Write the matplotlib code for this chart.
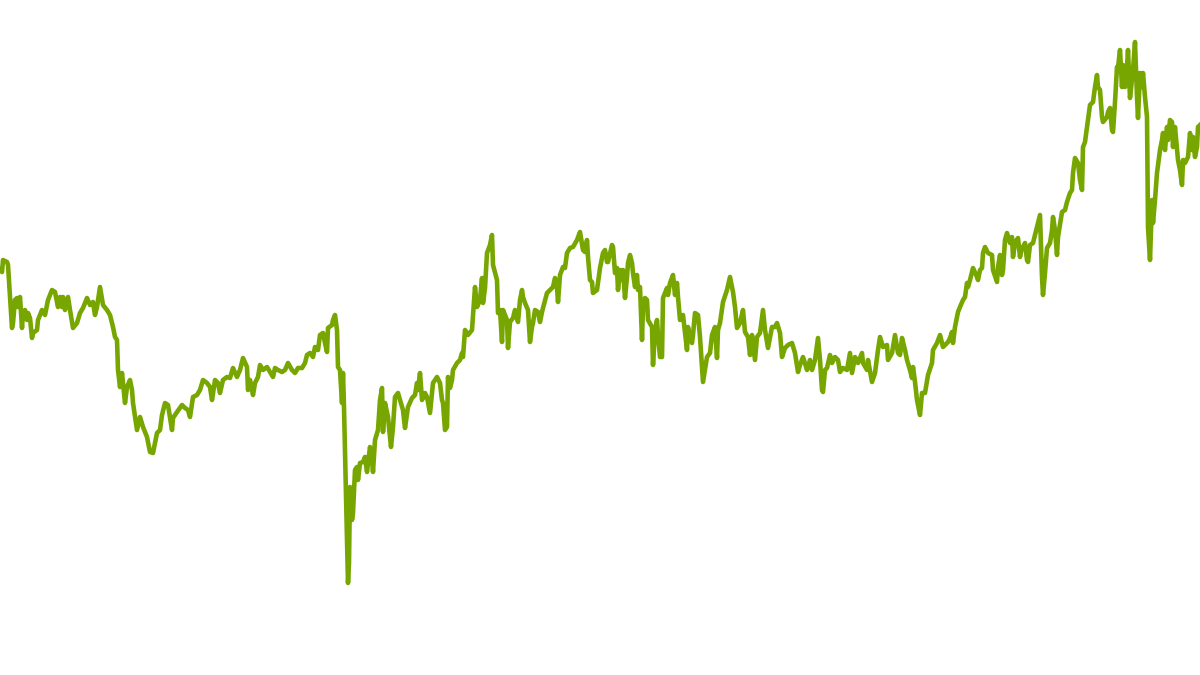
import matplotlib
matplotlib.use("Agg")
import matplotlib.pyplot as plt

# trading day index
days = [0, 2, 3, 7, 8, 10, 12, 13, 15, 17, 18, 20, 22, 23, 25, 27, 28, 30, 32, 33,
        37, 38, 42, 45, 48, 52, 55, 58, 60, 62, 63, 65, 68, 70, 73, 77, 80, 83, 87, 90,
        93, 95, 97, 100, 103, 107, 110, 113, 115, 117, 118, 120, 122, 125, 127, 130, 132, 133, 137, 140,
        143, 147, 150, 153, 155, 157, 160, 162, 165, 168, 172, 173, 177, 182, 185, 188, 190, 193, 197, 200,
        203, 207, 210, 212, 215, 218, 220, 223, 227, 230, 233, 237, 240, 243, 247, 248, 250, 253, 255, 258,
        260, 263, 267, 270, 273, 275, 278, 282, 285, 288, 292, 295, 298, 302, 305, 307, 310, 313, 315, 318,
        320, 323, 325, 327, 328, 332, 333, 335, 337, 338, 340, 342, 343, 344, 345, 346, 347, 348, 349, 350,
        352, 353, 355, 357, 358, 360, 363, 365, 367, 370, 372, 373, 375, 378, 380, 382, 383, 385, 388, 391,
        393, 395, 398, 400, 403, 405, 408, 412, 415, 417, 418, 420, 422, 425, 427, 430, 433, 437, 440, 442,
        443, 445, 447, 448, 450, 452, 453, 457, 460, 462, 463, 465, 468, 472, 475, 477, 480, 482, 483, 485,
        487, 490, 492, 493, 497, 498, 500, 502, 503, 507, 508, 510, 513, 515, 518, 520, 522, 523, 525, 528,
        530, 532, 533, 535, 538, 540, 542, 543, 547, 550, 553, 555, 557, 558, 560, 563, 565, 567, 570, 573,
        577, 580, 583, 585, 587, 588, 590, 592, 593, 597, 600, 603, 605, 607, 608, 612, 613, 615, 617, 618,
        620, 622, 623, 625, 627, 628, 630, 632, 633, 635, 637, 638, 640, 642, 643, 645, 647, 648, 652, 653,
        655, 657, 658, 660, 662, 663, 667, 668, 670, 673, 675, 677, 678, 680, 683, 685, 687, 688, 690, 692,
        693, 695, 698, 700, 702, 703, 707, 710, 712, 715, 717, 718, 720, 723, 727, 730, 733, 735, 737, 740,
        743, 745, 748, 750, 752, 755, 757, 760, 763, 765, 768, 772, 775, 777, 780, 782, 785, 788, 792, 795,
        798, 800, 803, 807, 810, 812, 815, 818, 820, 822, 823, 825, 827, 830, 832, 835, 838, 840, 843, 847,
        850, 852, 855, 858, 862, 863, 867, 868, 872, 875, 878, 880, 883, 887, 888, 892, 895, 898, 900, 902,
        905, 907, 910, 912, 913, 915, 917, 920, 922, 925, 928, 932, 933, 937, 940, 943, 947, 948, 950, 952,
        953, 955, 958, 960, 963, 965, 967, 968, 970, 973, 977, 978, 980, 982, 983, 985, 988, 992, 993, 997,
        998, 1000, 1002, 1003, 1005, 1007, 1010, 1012, 1013, 1015, 1018, 1020, 1022, 1023, 1025, 1027, 1028, 1030, 1033, 1035,
        1038, 1040, 1042, 1043, 1045, 1047, 1050, 1052, 1053, 1055, 1057, 1058, 1062, 1065, 1067, 1070, 1072, 1073, 1075, 1078,
        1080, 1082, 1083, 1085, 1087, 1088, 1090, 1093, 1095, 1097, 1098, 1100, 1102, 1103, 1107, 1108, 1110, 1112, 1113, 1115,
        1117, 1118, 1120, 1122, 1123, 1125, 1127, 1128, 1130, 1133, 1135, 1137, 1138, 1140, 1142, 1143, 1145, 1147, 1148, 1150,
        1152, 1153, 1155, 1157, 1160, 1162, 1163, 1165, 1167, 1168, 1170, 1172, 1173, 1175, 1178, 1180, 1182, 1183, 1185, 1188,
        1190, 1192, 1193, 1195, 1197, 1198, 1200]

# index level
level = [430, 428, 440, 438, 435, 403, 372, 377, 400, 402, 393, 403, 372, 387, 390, 380, 387, 382, 362, 367,
         370, 380, 390, 385, 400, 410, 408, 393, 403, 393, 403, 390, 403, 390, 372, 377, 387, 392, 402, 395,
         398, 385, 393, 413, 395, 390, 385, 373, 363, 360, 330, 313, 327, 297, 313, 320, 310, 297, 270, 283,
         273, 263, 248, 247, 257, 267, 270, 285, 297, 295, 270, 282, 288, 295, 292, 290, 283, 303, 305, 310,
         320, 317, 313, 300, 320, 317, 307, 320, 323, 322, 332, 323, 330, 342, 333, 310, 320, 305, 317, 323,
         335, 330, 333, 328, 323, 332, 330, 328, 330, 337, 330, 327, 332, 332, 337, 345, 347, 343, 353, 350,
         365, 367, 357, 348, 372, 375, 380, 385, 370, 333, 330, 297, 327, 293, 247, 200, 160, 117, 137, 213,
         180, 187, 230, 233, 220, 237, 238, 243, 228, 253, 240, 228, 260, 270, 300, 312, 268, 297, 283, 253,
         273, 303, 307, 300, 290, 272, 293, 302, 305, 317, 310, 327, 300, 307, 303, 287, 317, 323, 317, 300,
         297, 270, 273, 323, 312, 320, 330, 337, 340, 347, 343, 370, 365, 370, 413, 393, 400, 422, 397, 412,
         447, 455, 465, 435, 420, 387, 390, 358, 390, 380, 352, 378, 382, 390, 378, 400, 410, 403, 397, 390,
         358, 373, 377, 390, 388, 378, 388, 392, 407, 410, 413, 422, 413, 398, 425, 433, 432, 447, 452, 453,
         460, 468, 450, 448, 460, 443, 420, 418, 407, 410, 432, 447, 450, 438, 438, 455, 453, 427, 432, 410,
         430, 420, 430, 402, 423, 437, 445, 437, 427, 413, 425, 410, 413, 360, 393, 402, 400, 380, 373, 335,
         370, 380, 365, 343, 343, 402, 412, 405, 417, 425, 405, 417, 403, 380, 385, 367, 350, 373, 363, 357,
         365, 387, 385, 363, 333, 318, 343, 347, 365, 373, 342, 370, 377, 398, 410, 423, 408, 393, 372, 377,
         390, 368, 363, 345, 365, 340, 363, 367, 390, 370, 352, 373, 373, 377, 367, 343, 352, 355, 357, 347,
         328, 335, 343, 330, 340, 330, 340, 362, 340, 310, 308, 330, 332, 345, 337, 343, 340, 328, 332, 330,
         347, 327, 343, 337, 347, 337, 330, 340, 318, 327, 350, 363, 353, 355, 340, 347, 365, 347, 345, 362,
         350, 340, 330, 322, 333, 318, 300, 285, 307, 307, 325, 337, 350, 357, 365, 353, 357, 358, 362, 368,
         357, 373, 388, 393, 400, 403, 417, 413, 420, 432, 423, 420, 430, 432, 447, 453, 447, 445, 430, 418,
         433, 445, 425, 430, 460, 467, 457, 463, 443, 457, 462, 443, 453, 452, 457, 440, 438, 455, 457, 465,
         477, 485, 423, 405, 427, 452, 457, 470, 483, 470, 445, 463, 488, 490, 498, 507, 510, 527, 542, 537,
         520, 510, 553, 558, 573, 580, 595, 598, 613, 625, 613, 610, 583, 578, 583, 588, 592, 570, 568, 598,
         633, 632, 650, 613, 635, 613, 633, 650, 602, 630, 658, 603, 582, 627, 613, 627, 603, 583, 473, 440,
         500, 477, 500, 527, 550, 560, 567, 550, 573, 560, 580, 578, 553, 573, 540, 530, 515, 540, 537, 543,
         567, 550, 563, 543, 553, 573, 575]

fig = plt.figure(figsize=(12, 6.75), dpi=100)
ax = fig.add_axes([0, 0, 1, 1])
ax.plot(days, level, color="#77a600", linewidth=3.3, solid_joinstyle="round")
ax.set_xlim(0, 1200)
ax.set_ylim(25, 700)
ax.axis("off")
fig.savefig("out.png", dpi=100, facecolor="white")
